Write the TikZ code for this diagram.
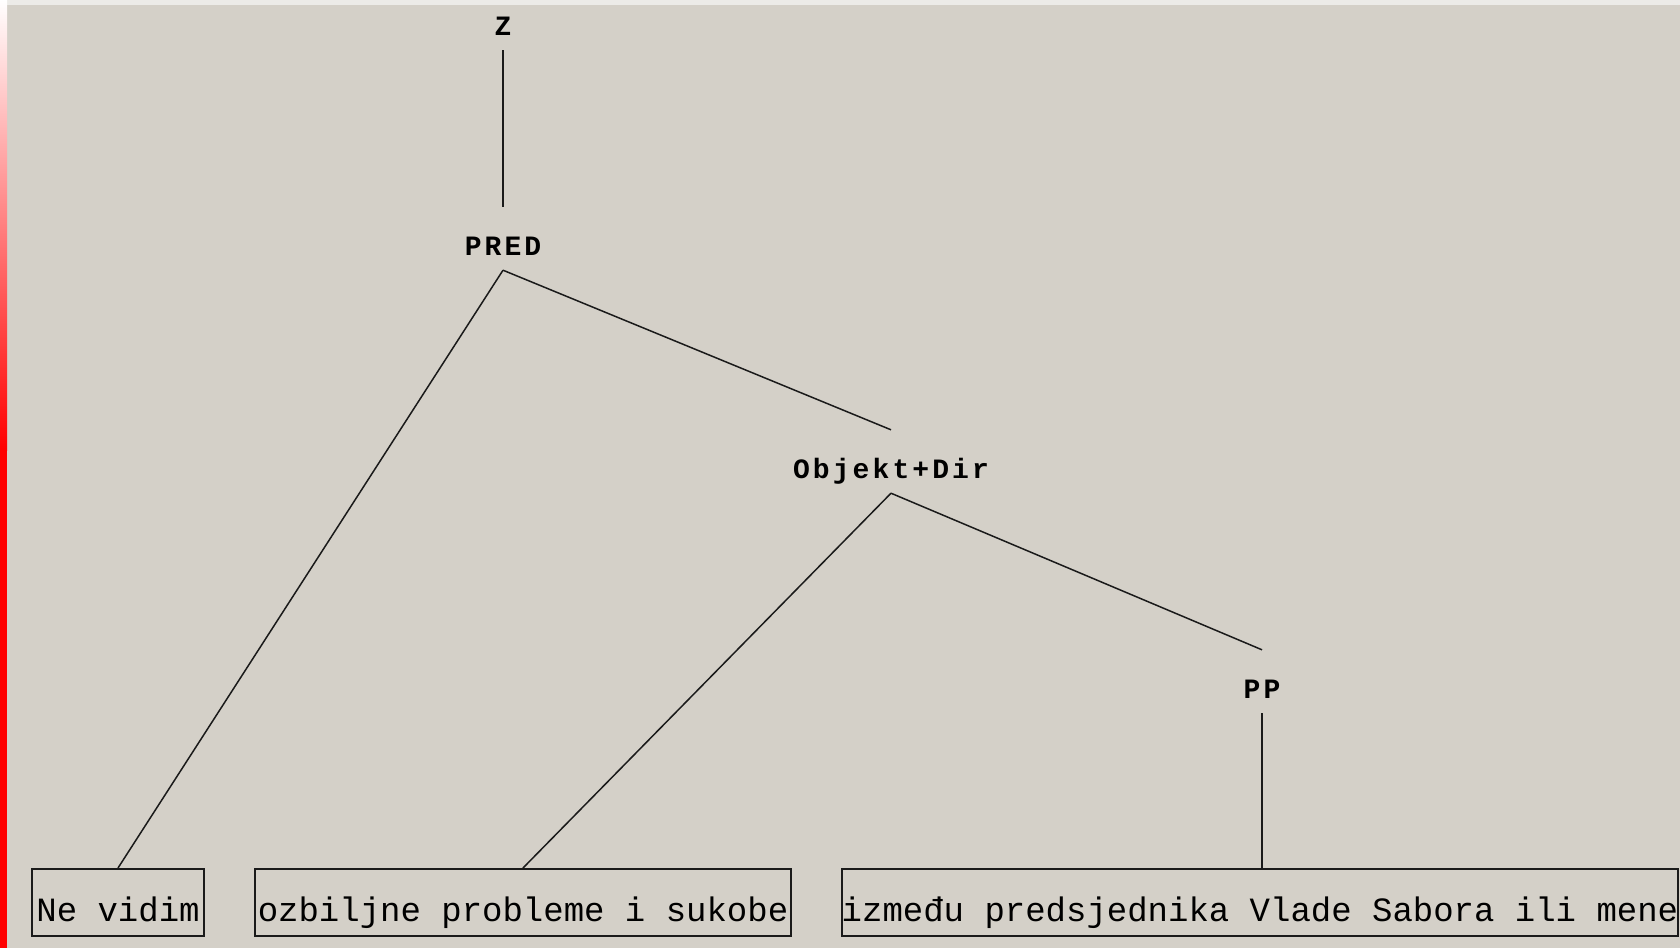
\documentclass[tikz,border=0pt]{standalone}
\usepackage{fontspec}
\newfontfamily\boxfont{Liberation Mono}
\newfontfamily\lblfont[LetterSpace=11]{Liberation Mono}
\definecolor{bg}{HTML}{D4D0C8}
\definecolor{ink}{HTML}{1A1A1A}
\definecolor{topstrip}{HTML}{ECEBE8}
\tikzset{
  lbl/.style={inner sep=0pt, anchor=base, text height=48pt, text depth=15pt,
    font=\lblfont\fontsize{28}{32}\selectfont\bfseries, text=black},
  leaf/.style={draw=ink, line width=1.6pt, inner xsep=0pt, inner ysep=0pt,
    text height=53pt, text depth=14pt, anchor=north,
    font=\boxfont\fontsize{34}{40}\selectfont, text=black},
  branch/.style={draw=ink, line width=1.5pt}
}
\begin{document}
\begin{tikzpicture}[x=1pt,y=-1pt]
\useasboundingbox (0,0) rectangle (1680,948);
\fill[bg] (0,0) rectangle (1680,948);
\fill[topstrip] (0,0) rectangle (1680,5);
\shade[top color=white, bottom color=red] (0,0) rectangle (7,450);
\fill[red] (0,450) rectangle (7,948);

\node[lbl] (Z) at (503,35) {Z};
\node[lbl] (PRED) at (503,255) {PRED};
\node[lbl] (OBJ) at (891,478) {Objekt+Dir};
\node[lbl] (PP) at (1262,698) {PP};

\node[leaf, minimum width=172pt] (B1) at (118,868) {Ne vidim};
\node[leaf, minimum width=536pt] (B2) at (523,868) {ozbiljne probleme i sukobe};
\node[leaf, minimum width=836pt] (B3) at (1260,868) {između predsjednika Vlade Sabora ili mene};

\draw[branch] (Z.south) -- (PRED.north);
\draw[branch] (PRED.south) -- (B1.north);
\draw[branch] (PRED.south) -- (OBJ.north);
\draw[branch] (OBJ.south) -- (B2.north);
\draw[branch] (OBJ.south) -- (PP.north);
\draw[branch] (PP.south) -- (PP.south |- B3.north);
\end{tikzpicture}
\end{document}
